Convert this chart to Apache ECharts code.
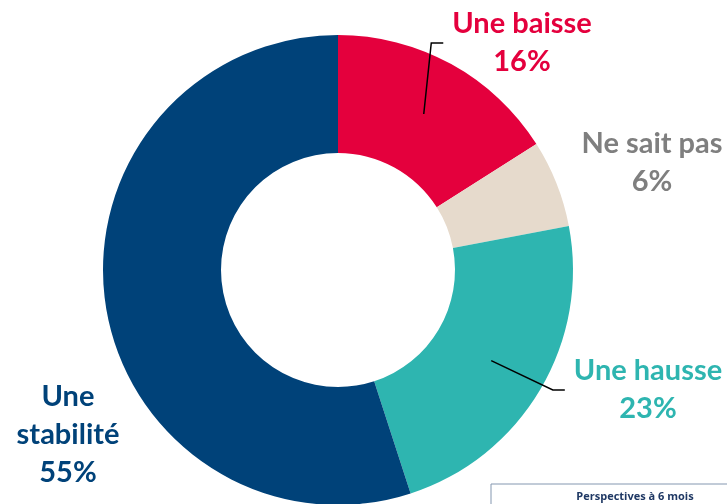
<!DOCTYPE html>
<html>
<head>
<meta charset="utf-8">
<script src="https://cdn.jsdelivr.net/npm/echarts@6/dist/echarts.min.js"></script>
<style>
  html, body { margin: 0; padding: 0; background: #fff; }
  #pie { width: 727px; height: 504px; }
</style>
</head>
<body>
<div id="pie"></div>
<script>
// data
const categories = ['Une baisse', 'Ne sait pas', 'Une hausse', 'Une stabilité'];
const shares = [16, 6, 23, 55];
const labelTexts = ['Une baisse', 'Ne sait pas', 'Une hausse', 'Une\nstabilité'];

const sliceColors = ['#e4003d', '#e6dacc', '#2eb5b0', '#004279'];
const textColors = ['#e4003d', '#7f7f7f', '#2eb5b0', '#004279'];
const withLine = [true, false, true, false];
// where each label block sits (centre)
const labelSpots = [[522, 43], [652, 163], [648, 390], [68, 435]];

let myChart = echarts.init(document.getElementById('pie'));

let ring = categories.map((name, i) => ({
	name: name,
	value: shares[i],
	itemStyle: { color: sliceColors[i] }
}));

let labelled = categories.map((name, i) => ({
	name: name,
	value: shares[i],
	label: {
		color: textColors[i],
		formatter: labelTexts[i] + '\n' + shares[i] + '%'
	},
	labelLine: { show: withLine[i] }
}));

myChart.setOption({
	animation: false,
	series: [
		{
			name: 'ring',
			type: 'pie',
			center: [338, 270],
			radius: [117, 235],
			startAngle: 90,
			clockwise: true,
			silent: true,
			label: { show: false },
			labelLine: { show: false },
			emphasis: { disabled: true },
			data: ring
		},
		{
			// invisible pie on top, only here to carry the labels and leader lines
			name: 'labels',
			type: 'pie',
			z: 5,
			center: [338, 270],
			radius: [0, 178],
			startAngle: 90,
			clockwise: true,
			silent: true,
			avoidLabelOverlap: false,
			itemStyle: { color: 'rgba(0,0,0,0)' },
			label: {
				show: true,
				position: 'outside',
				fontFamily: 'Lato',
				fontWeight: 'bold',
				fontSize: 29,
				lineHeight: 38,
				align: 'center'
			},
			labelLine: {
				show: true,
				length: 10,
				length2: 10,
				lineStyle: { color: '#000', width: 1.5 }
			},
			labelLayout: function (params) {
				let i = params.dataIndex;
				let spot = labelSpots[i];
				let out = {
					x: spot[0],
					y: spot[1],
					align: 'center',
					verticalAlign: 'middle'
				};
				if (withLine[i] && params.labelLinePoints) {
					let left = spot[0] - params.labelRect.width / 2;
					out.labelLinePoints = [
						params.labelLinePoints[0],
						[left - 21, spot[1]],
						[left - 9, spot[1]]
					];
				}
				return out;
			},
			emphasis: { disabled: true },
			data: labelled
		}
	],
	graphic: [
		{
			type: 'rect',
			shape: { x: 491, y: 484, width: 300, height: 60 },
			style: { fill: '#fff', stroke: '#8497b0', lineWidth: 1 }
		},
		{
			type: 'text',
			x: 635,
			y: 497,
			style: {
				text: 'Perspectives à 6 mois',
				fill: '#1f3864',
				font: 'bold 11px "Open Sans"',
				align: 'center',
				verticalAlign: 'middle'
			}
		}
	]
});
</script>
</body>
</html>
